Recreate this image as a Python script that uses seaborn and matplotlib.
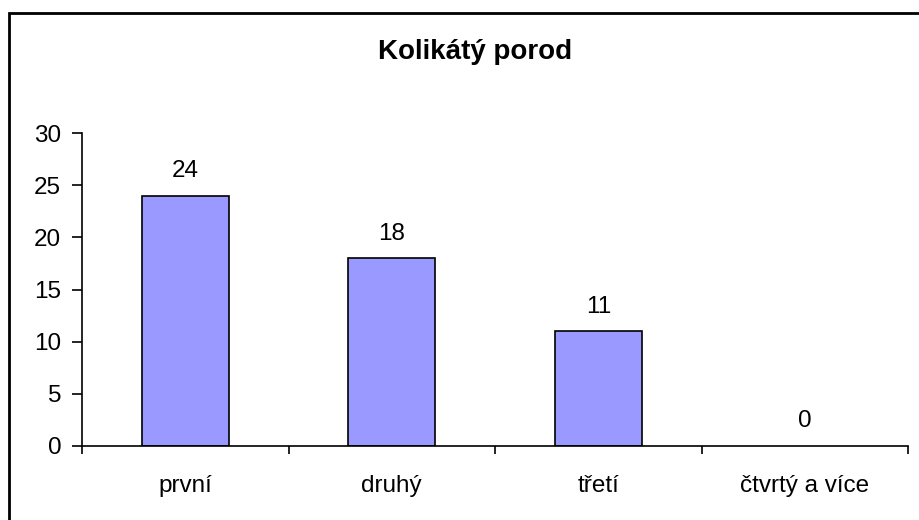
import matplotlib
matplotlib.use("Agg")
import matplotlib.pyplot as plt
import seaborn as sns
import pandas as pd
from matplotlib.patches import Rectangle

# data
categories = ["první", "druhý", "třetí", "čtvrtý a více"]
values = [24, 18, 11, 0]
title = "Kolikátý porod"

sns.set_style("white")
plt.rcParams["font.family"] = ["Liberation Sans", "DejaVu Sans"]
plt.rcParams["text.color"] = "black"
plt.rcParams["xtick.color"] = "black"
plt.rcParams["ytick.color"] = "black"

df = pd.DataFrame({"kat": categories, "pocet": values})

fig = plt.figure(figsize=(9.2, 5.2), dpi=100)
ax = fig.add_axes([82 / 920, 1 - 446 / 520, (908 - 82) / 920, (446 - 133) / 520])

sns.barplot(data=df, x="kat", y="pocet", color="#9999FF", saturation=1,
            edgecolor="black", linewidth=1.2, width=0.42, ax=ax)

# nulovy sloupec nema byt videt
for p in ax.patches:
    if p.get_height() == 0:
        p.set_edgecolor("none")

# popisky hodnot
for i, v in enumerate(values):
    ax.text(i, v + 1.3, str(v), ha="center", va="bottom", fontsize=17.5)

ax.set_xlim(-0.5, len(categories) - 0.5)
ax.set_ylim(0, 30)
ax.set_yticks(range(0, 31, 5))
ax.set_xlabel("")
ax.set_ylabel("")

# osa x: carky mezi kategoriemi
ax.set_xticks([i - 0.5 for i in range(len(categories) + 1)], minor=True)
ax.tick_params(axis="x", which="major", bottom=True, length=0, labelsize=17.5, pad=21)
ax.tick_params(axis="x", which="minor", bottom=True, length=6, width=1.2,
               direction="out", color="black")
ax.tick_params(axis="y", left=True, length=7, width=1.2, direction="out",
               color="black", labelsize=17.5, pad=8)

for s in ["top", "right"]:
    ax.spines[s].set_visible(False)
for s in ["left", "bottom"]:
    ax.spines[s].set_color("black")
    ax.spines[s].set_linewidth(1.2)

fig.text(475 / 920, 1 - 52 / 520, title, ha="center", va="center",
         fontsize=20, fontweight="bold")

# ramecek grafu
fig.patches.append(Rectangle((9 / 920, -0.1), 1.0, 1 - 13 / 520 + 0.1,
                             transform=fig.transFigure, fill=False,
                             edgecolor="black", linewidth=2))

fig.savefig("out.png", dpi=100)
